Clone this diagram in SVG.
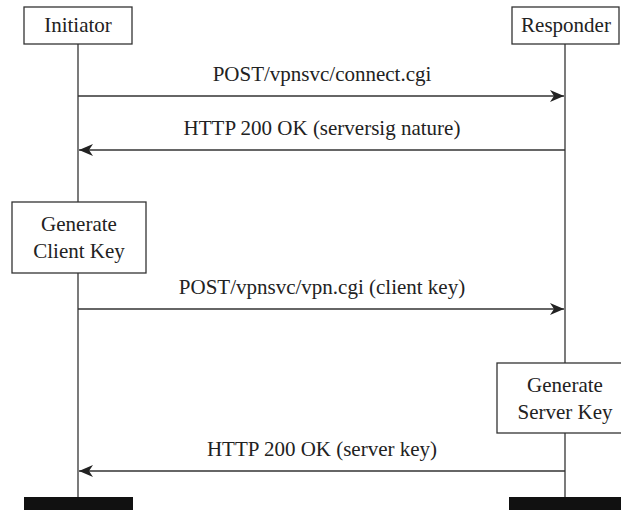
<svg xmlns="http://www.w3.org/2000/svg" width="621" height="510" viewBox="0 0 621 510">
<style>
.box{fill:#fff;stroke:#333;stroke-width:1.3}
.life{stroke:#333;stroke-width:1.3;fill:none}
.msg{stroke:#333;stroke-width:1.3;fill:none;marker-end:url(#ah)}
text{font-family:"Liberation Serif","Times New Roman",serif;font-size:21px;fill:#222;text-anchor:middle}
.bar{fill:#111}
</style>
<defs>
<marker id="ah" viewBox="0 0 14 12" refX="14" refY="6" markerWidth="14" markerHeight="12" markerUnits="userSpaceOnUse" orient="auto">
<path d="M0,0 L14,6 L0,12 L4,6 Z" fill="#222"/>
</marker>
</defs>
<g id="lifelines">
<line class="life" x1="78" y1="44" x2="78" y2="497"/>
<line class="life" x1="565" y1="44" x2="565" y2="497"/>
</g>
<g id="initiator">
<rect class="box" x="24" y="7" width="108" height="37"/>
<text x="78" y="32">Initiator</text>
</g>
<g id="responder">
<rect class="box" x="512" y="7" width="107" height="37"/>
<text x="566" y="32">Responder</text>
</g>
<g id="client-key">
<rect class="box" x="12" y="202" width="134" height="71"/>
<text x="79" y="231">Generate</text>
<text x="79" y="258">Client Key</text>
</g>
<g id="server-key">
<rect class="box" x="497" y="363" width="136" height="70"/>
<text x="565" y="392">Generate</text>
<text x="565" y="419">Server Key</text>
</g>
<g id="connectors">
<line class="msg" x1="78" y1="96" x2="564" y2="96"/>
<text x="322" y="81">POST/vpnsvc/connect.cgi</text>
<line class="msg" x1="565" y1="150" x2="79" y2="150"/>
<text x="322" y="135">HTTP 200 OK (serversig nature)</text>
<line class="msg" x1="78" y1="309" x2="564" y2="309"/>
<text x="322" y="294">POST/vpnsvc/vpn.cgi (client key)</text>
<line class="msg" x1="565" y1="471" x2="79" y2="471"/>
<text x="322" y="456">HTTP 200 OK (server key)</text>
</g>
<g id="terminators">
<rect class="bar" x="24" y="497" width="109" height="13"/>
<rect class="bar" x="509" y="497" width="112" height="13"/>
</g>
</svg>
